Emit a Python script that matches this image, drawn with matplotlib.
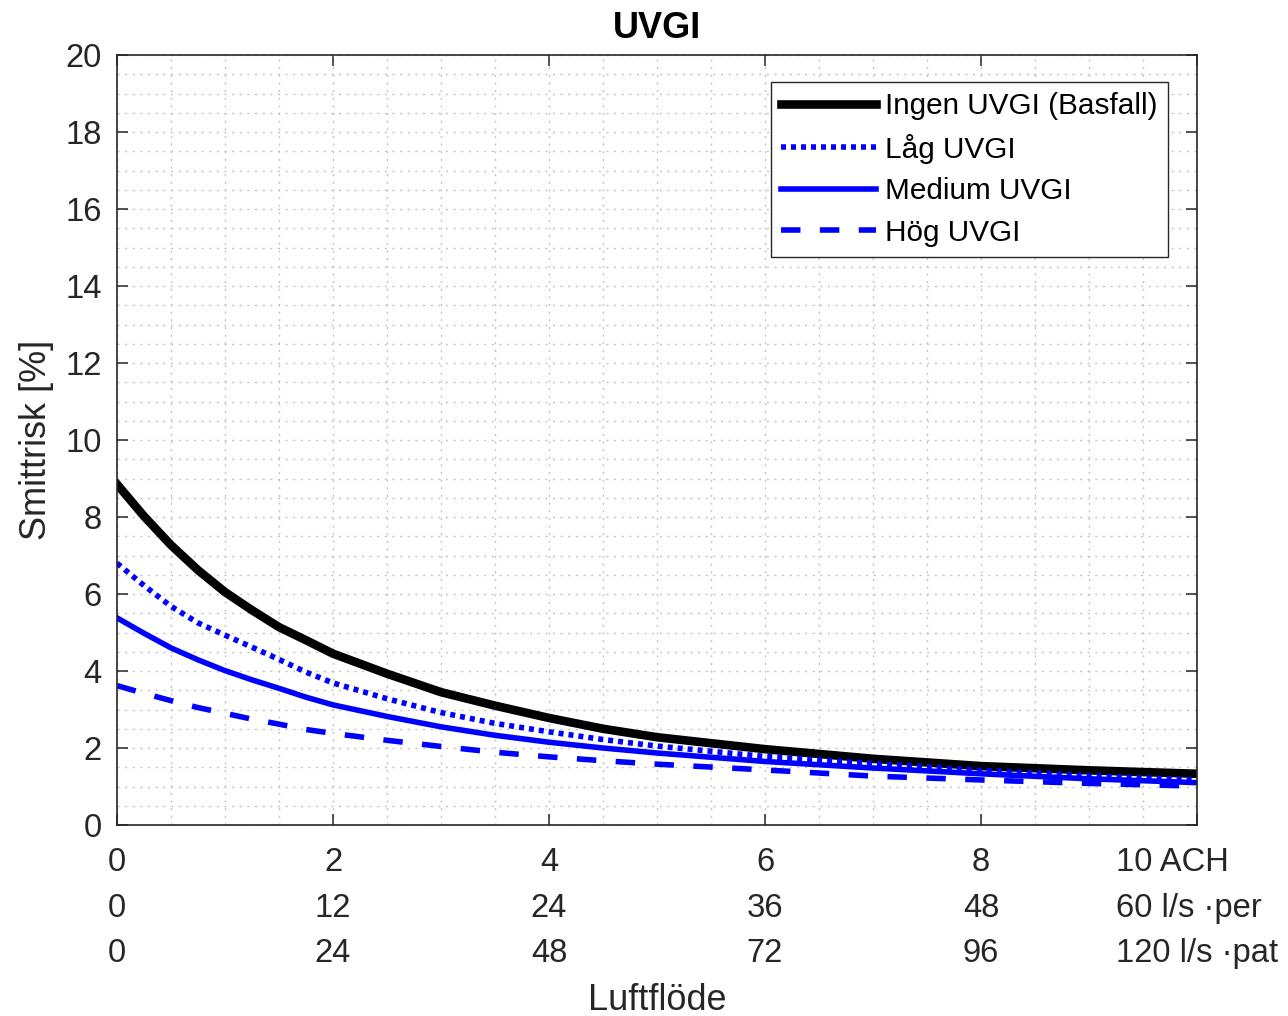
import matplotlib.pyplot as plt
from matplotlib.ticker import MultipleLocator

plt.rcParams['font.family'] = ['Liberation Sans', 'DejaVu Sans']

# luftflöde [ACH]
ach = [0, 0.25, 0.5, 0.75, 1, 1.25, 1.5, 1.75, 2, 2.5, 3, 3.5, 4, 4.5, 5, 6, 7, 8, 9, 10]

ingen = [8.85, 8.02, 7.27, 6.62, 6.05, 5.58, 5.14, 4.80, 4.45, 3.93, 3.45, 3.10, 2.78, 2.50, 2.28,
         1.97, 1.72, 1.53, 1.42, 1.33]
lag = [6.80, 6.22, 5.68, 5.25, 4.93, 4.62, 4.30, 3.97, 3.69, 3.28, 2.92, 2.64, 2.42, 2.22, 2.05,
       1.78, 1.60, 1.42, 1.28, 1.17]
medium = [5.38, 4.98, 4.60, 4.29, 4.01, 3.77, 3.55, 3.32, 3.12, 2.82, 2.55, 2.33, 2.15, 2.00, 1.87,
          1.65, 1.48, 1.33, 1.20, 1.10]
hog = [3.62, 3.42, 3.23, 3.05, 2.90, 2.75, 2.62, 2.48, 2.38, 2.20, 2.04, 1.89, 1.77, 1.67, 1.58,
       1.43, 1.27, 1.17, 1.08, 1.01]

xticks = [0, 2, 4, 6, 8, 10]
xlabels = ["0\n0\n0", "2\n12\n24", "4\n24\n48", "6\n36\n72", "8\n48\n96",
           "10 ACH\n60 l/s \u00b7per\n120 l/s \u00b7pat"]

fig = plt.figure(figsize=(12.88, 10.16), dpi=100)
ax = fig.add_axes([117/1288, 191/1016, 1080/1288, 770/1016])

ax.plot(ach, ingen, color='black', lw=6.2, label='Ingen UVGI (Basfall)')
ax.plot(ach, lag, color='blue', lw=4, dashes=(0.9, 0.9), label='Låg UVGI')
ax.plot(ach, medium, color='blue', lw=4, label='Medium UVGI')
ax.plot(ach, hog, color='blue', lw=4, dashes=(3.5, 3.5), label='Hög UVGI')

ax.set_xlim(0, 10)
ax.set_ylim(0, 20)
ax.set_yticks(range(0, 21, 2))
ax.set_xticks(xticks)
ax.set_xticklabels(xlabels, linespacing=1.6)
ax.get_xticklabels()[-1].set_multialignment('left')
ax.xaxis.set_minor_locator(MultipleLocator(0.5))
ax.yaxis.set_minor_locator(MultipleLocator(0.5))

ax.grid(True, which='both', color='#c4c4c4', lw=1.0, linestyle=(0, (1.5, 4)))
ax.tick_params(which='major', direction='in', length=8, width=1.1, labelsize=23.6,
               colors='#262626', top=True, right=True)
ax.tick_params(axis='x', pad=16)
ax.tick_params(axis='y', pad=11)
ax.tick_params(which='minor', length=0)
for s in ax.spines.values():
    s.set_color('#262626')
    s.set_linewidth(1.2)

ax.set_title('UVGI', fontsize=26, fontweight='bold', pad=12)
ax.set_xlabel('Luftflöde', fontsize=26, color='#262626', labelpad=10)
ax.set_ylabel('Smittrisk [%]', fontsize=26, color='#262626', labelpad=8)

leg = ax.legend(loc='upper right', bbox_to_anchor=(1168/1288, 1 - 82/1016),
                bbox_transform=fig.transFigure, fontsize=21.4, fancybox=False,
                framealpha=1, edgecolor='#262626', handlelength=3.2,
                handletextpad=0.3, labelspacing=0.45, borderpad=0.35,
                borderaxespad=0)
leg.get_frame().set_linewidth(1.0)

fig.savefig('out.png', dpi=100)
